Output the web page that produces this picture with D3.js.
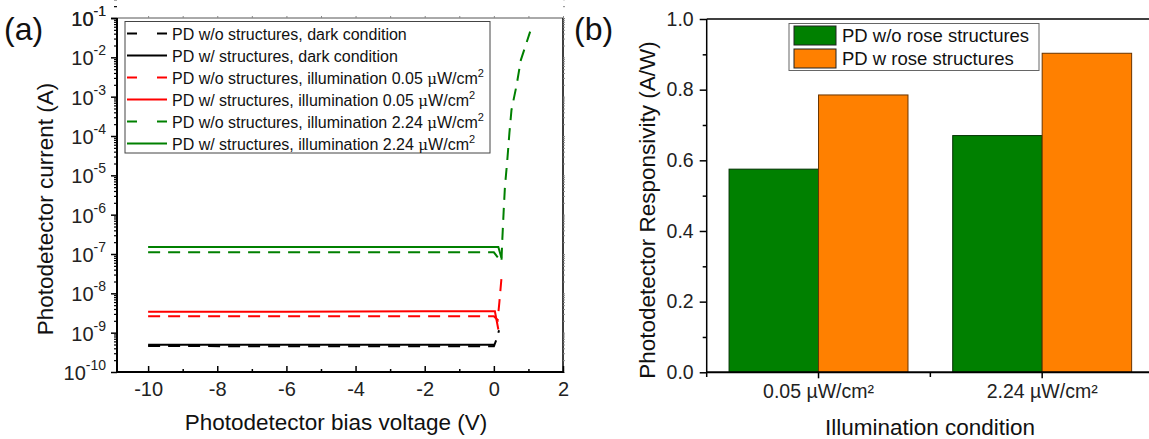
<!DOCTYPE html>
<html>
<head>
<meta charset="utf-8">
<script src="https://cdn.jsdelivr.net/npm/d3@7"></script>
<style>
  body { margin: 0; background: #fff; }
  svg { font-family: "Liberation Sans", Arial, sans-serif; }
</style>
</head>
<body>
<div id="chart"></div>
<script>
// ---- panel (a) data: bias voltage (V) and current (A) per curve ----
const darkWoV = [-10, -6, -2, 0, 0.08, 0.15];
const darkWoI = [4.6e-10, 4.5e-10, 4.5e-10, 4.5e-10, 6.8e-10, 1.15e-9];
const darkWV = [-10, -6, -2, 0, 0.01];
const darkWI = [4.9e-10, 4.9e-10, 4.9e-10, 4.9e-10, 4.5e-10];
const lowWoV = [-10, -6, -2, 0, 0.11, 0.16, 0.22];
const lowWoI = [2.6e-9, 2.6e-9, 2.6e-9, 2.6e-9, 2.1e-9, 6e-9, 2.4e-8];
const lowWV = [-10, -6, -2, 0.03, 0.13];
const lowWI = [3.4e-9, 3.4e-9, 3.5e-9, 3.5e-9, 1.2e-9];
const highWoV = [-10, -6, -2, 0, 0.22, 0.24, 0.29, 0.32, 0.39, 0.45, 0.51, 0.66, 0.78, 1.05];
const highWoI = [1.1e-7, 1.1e-7, 1.1e-7, 1.1e-7, 6.3e-8, 1.9e-7, 1.6e-6, 5e-6, 2.5e-5, 1.2e-4, 4.6e-4, 2e-3, 8.5e-3, 4.5e-2];
const highWV = [-10, -6, -2, 0.13, 0.22];
const highWI = [1.5e-7, 1.5e-7, 1.5e-7, 1.5e-7, 8e-8];

const curveLabels = [
  ["PD w/o structures, dark condition", ""],
  ["PD w/ structures, dark condition", ""],
  ["PD w/o structures, illumination 0.05 ", "W/cm"],
  ["PD w/ structures, illumination 0.05 ", "W/cm"],
  ["PD w/o structures, illumination 2.24 ", "W/cm"],
  ["PD w/ structures, illumination 2.24 ", "W/cm"]
];
const curveColors = ["black", "black", "red", "red", "green", "green"];
const curveDashed = [true, false, true, false, true, false];
const xTicksA = [-10, -8, -6, -4, -2, 0, 2];
const decades = [-10, -9, -8, -7, -6, -5, -4, -3, -2, -1];

// ---- panel (b) data ----
const conditions = ["0.05 µW/cm²", "2.24 µW/cm²"];
const barSeries = ["PD w/o rose structures", "PD w rose structures"];
const respWo = [0.575, 0.67];
const respW = [0.785, 0.903];
const barColors = ["#008000", "#ff8000"];
const yTicksB = [0, 0.2, 0.4, 0.6, 0.8, 1.0];

const FONT = "'Liberation Sans', Arial, sans-serif";

const svg = d3.select("#chart").append("svg")
  .attr("width", 1149)
  .attr("height", 439);

// ================= panel (a) =================
const xA = d3.scaleLinear().domain([-10.9, 2]).range([117, 563]);
const yA = d3.scaleLog().domain([1e-10, 1e-1]).range([372, 18]);

const minorLog = [];
decades.forEach(d => {
  for (let m = 2; m <= 9; m++) minorLog.push(m * Math.pow(10, d));
});
const majorLog = decades.map(d => Math.pow(10, d)).concat([1e-1]);

// frame top & right
svg.append("line").attr("x1", 117).attr("x2", 563).attr("y1", 18).attr("y2", 18)
  .attr("stroke", "#555").attr("stroke-width", 1);
svg.append("line").attr("x1", 563).attr("x2", 563).attr("y1", 18).attr("y2", 372)
  .attr("stroke", "black").attr("stroke-width", 1.5);
// light ticks on top and right
svg.append("g").attr("transform", "translate(0,18)")
  .call(d3.axisTop(xA).tickValues(d3.range(-10, 3, 1)).tickSize(2).tickFormat(""))
  .call(g => g.select(".domain").remove())
  .selectAll("line").attr("stroke", "#888");
svg.append("g").attr("transform", "translate(563,0)")
  .call(d3.axisRight(yA).tickValues(minorLog.concat(majorLog)).tickSize(2).tickFormat(""))
  .call(g => g.select(".domain").remove())
  .selectAll("line").attr("stroke", "#888");

// left axis
svg.append("g").attr("transform", "translate(117,0)")
  .call(d3.axisLeft(yA).tickValues(minorLog).tickSize(3).tickFormat(""))
  .call(g => g.select(".domain").remove())
  .selectAll("line").attr("stroke-width", 1.2);
svg.append("g").attr("transform", "translate(117,0)")
  .call(d3.axisLeft(yA).tickValues(majorLog).tickSize(6).tickFormat(""))
  .call(g => g.select(".domain").attr("stroke-width", 2).attr("d", "M0,18V373"))
  .selectAll("line").attr("stroke-width", 1.5);

majorLog.forEach(v => {
  const t = svg.append("text")
    .attr("x", 106)
    .attr("y", yA(v) + 8)
    .attr("text-anchor", "end")
    .attr("font-size", 20)
    .attr("fill", "#222");
  t.append("tspan").text("10");
  t.append("tspan").attr("dy", -10).attr("font-size", 14).text(Math.round(Math.log10(v)));
});

// bottom axis (ticks inward)
svg.append("g").attr("transform", "translate(0,372)")
  .call(d3.axisBottom(xA).tickValues(d3.range(-9, 2, 2)).tickSize(-3).tickFormat(""))
  .call(g => g.select(".domain").remove())
  .selectAll("line").attr("stroke-width", 1.5);
svg.append("g").attr("transform", "translate(0,372)")
  .call(d3.axisBottom(xA).tickValues(xTicksA).tickSize(-6).tickPadding(10).tickFormat(d => d))
  .call(g => g.select(".domain").attr("stroke-width", 2).attr("d", "M116,0H564"))
  .call(g => g.selectAll("line").attr("stroke-width", 1.5))
  .call(g => g.selectAll("text").attr("font-size", 20).attr("fill", "#222").attr("font-family", FONT));

// curves
const curveV = [darkWoV, darkWV, lowWoV, lowWV, highWoV, highWV];
const curveI = [darkWoI, darkWI, lowWoI, lowWI, highWoI, highWI];
const lineA = d3.line().x(d => xA(d[0])).y(d => yA(d[1]));
curveV.forEach((vs, k) => {
  svg.append("path")
    .datum(vs.map((v, j) => [v, curveI[k][j]]))
    .attr("d", lineA)
    .attr("fill", "none")
    .attr("stroke", curveColors[k])
    .attr("stroke-width", 2)
    .attr("stroke-dasharray", curveDashed[k] ? "12,8" : null);
});

// legend (a)
svg.append("rect").attr("x", 125).attr("y", 21.5).attr("width", 365).attr("height", 131.5)
  .attr("fill", "white").attr("stroke", "#444").attr("stroke-width", 1);
curveLabels.forEach((lab, k) => {
  const ly = 33.5 + k * 22;
  svg.append("line").attr("x1", 127).attr("x2", 167).attr("y1", ly).attr("y2", ly)
    .attr("stroke", curveColors[k]).attr("stroke-width", 2)
    .attr("stroke-dasharray", curveDashed[k] ? "10,20" : null);
  const t = svg.append("text").attr("x", 172).attr("y", ly + 6)
    .attr("font-size", 16).attr("fill", "#111");
  t.append("tspan").text(lab[0]);
  if (lab[1]) {
    t.append("tspan").attr("font-family", "'DejaVu Serif', serif").attr("font-size", 15).text("μ");
    t.append("tspan").text(lab[1]);
    t.append("tspan").attr("dy", -7).attr("font-size", 11).text("2");
  }
});

// titles (a)
svg.append("text").attr("x", 336).attr("y", 430).attr("text-anchor", "middle")
  .attr("font-size", 22.5).attr("fill", "#111").text("Photodetector bias voltage (V)");
svg.append("text").attr("transform", "translate(53,209) rotate(-90)").attr("text-anchor", "middle")
  .attr("font-size", 22.5).attr("fill", "#111").text("Photodetector current (A)");
svg.append("text").attr("x", 4).attr("y", 40).attr("font-size", 32).attr("fill", "#111").text("(a)");

// ================= panel (b) =================
const xB = d3.scaleBand().domain(conditions).range([706.7, 1154]);
const xSub = d3.scaleBand().domain(barSeries).range([xB.bandwidth() * 0.1, xB.bandwidth() * 0.9]);
const yB = d3.scaleLinear().domain([0, 1]).range([372.3, 19]);

// top frame line
svg.append("line").attr("x1", 706.7).attr("x2", 1154).attr("y1", 19).attr("y2", 19)
  .attr("stroke", "black").attr("stroke-width", 1.5);

// bars
const barValues = [respWo, respW];
conditions.forEach((c, i) => {
  barSeries.forEach((s, k) => {
    svg.append("rect")
      .attr("x", xB(c) + xSub(s))
      .attr("y", yB(barValues[k][i]))
      .attr("width", xSub.bandwidth())
      .attr("height", yB(0) - yB(barValues[k][i]))
      .attr("fill", barColors[k])
      .attr("stroke", k === 0 ? "#003000" : "#6a3500")
      .attr("stroke-width", 1);
  });
});

// left axis (b)
svg.append("g").attr("transform", "translate(706.7,0)")
  .call(d3.axisLeft(yB).tickValues([0.1, 0.3, 0.5, 0.7, 0.9]).tickSize(4).tickFormat(""))
  .call(g => g.select(".domain").remove())
  .selectAll("line").attr("stroke-width", 1.5);
svg.append("g").attr("transform", "translate(706.7,0)")
  .call(d3.axisLeft(yB).tickValues(yTicksB).tickSize(7).tickPadding(6).tickFormat(d3.format(".1f")))
  .call(g => g.select(".domain").attr("stroke-width", 1.5).attr("d", "M0,19V373"))
  .call(g => g.selectAll("line").attr("stroke-width", 1.5))
  .call(g => g.selectAll("text").attr("font-size", 19.5).attr("fill", "#222").attr("font-family", FONT));

// bottom axis (b)
const bandEdges = [xB.range()[0], xB(conditions[1]), xB.range()[1]];
bandEdges.forEach(bx => {
  svg.append("line").attr("x1", bx).attr("x2", bx).attr("y1", 372.3).attr("y2", 377)
    .attr("stroke", "black").attr("stroke-width", 1.5);
});
svg.append("g").attr("transform", "translate(0,372.3)")
  .call(d3.axisBottom(xB).tickSize(6).tickPadding(6))
  .call(g => g.select(".domain").attr("stroke-width", 2).attr("d", "M706,0H1154"))
  .call(g => g.selectAll("line").attr("stroke-width", 1.5))
  .call(g => g.selectAll("text").attr("font-size", 19.5).attr("fill", "#222").attr("font-family", FONT));

// legend (b)
svg.append("rect").attr("x", 789).attr("y", 23.5).attr("width", 250).attr("height", 47)
  .attr("fill", "white").attr("stroke", "#666").attr("stroke-width", 1);
barSeries.forEach((s, k) => {
  svg.append("rect").attr("x", 794).attr("y", 26 + k * 23).attr("width", 42).attr("height", 19)
    .attr("fill", barColors[k]).attr("stroke", "#222").attr("stroke-width", 1);
  svg.append("text").attr("x", 842).attr("y", 42 + k * 23)
    .attr("font-size", 18.5).attr("fill", "#111").text(s);
});

// titles (b)
svg.append("text").attr("x", 930).attr("y", 435).attr("text-anchor", "middle")
  .attr("font-size", 22.5).attr("fill", "#111").text("Illumination condition");
svg.append("text").attr("transform", "translate(655,210) rotate(-90)").attr("text-anchor", "middle")
  .attr("font-size", 22.5).attr("fill", "#111").text("Photodetector Responsivity (A/W)");
svg.append("text").attr("x", 574).attr("y", 40).attr("font-size", 32).attr("fill", "#111").text("(b)");
</script>
</body>
</html>
